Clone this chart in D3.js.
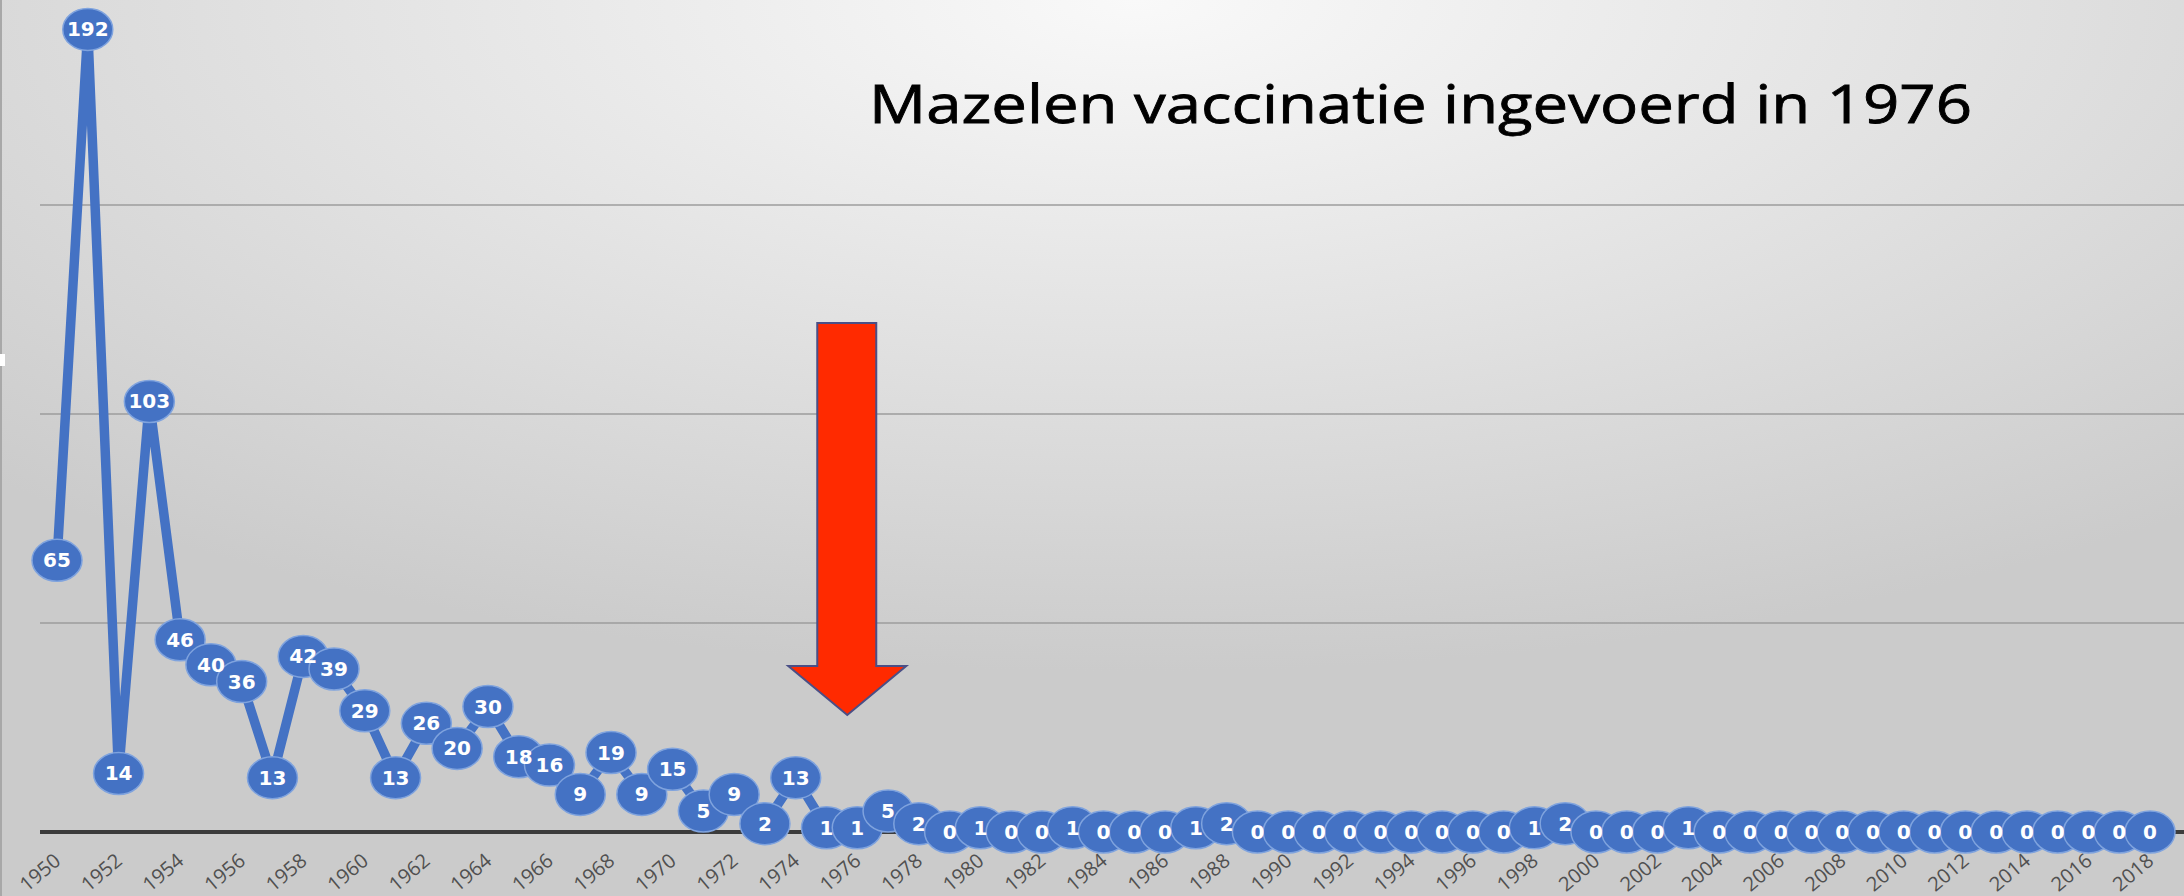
<!DOCTYPE html>
<html>
<head>
<meta charset="utf-8">
<script src="https://cdn.jsdelivr.net/npm/d3@7"></script>
<style>
  html, body { margin: 0; padding: 0; background: #e6e6e6; }
  #chart { width: 2184px; height: 896px; overflow: hidden; }
</style>
</head>
<body>
<div id="chart"></div>
<script>
// measles cases per year, NL
const years = [
  1950, 1951, 1952, 1953, 1954, 1955, 1956, 1957, 1958, 1959,
  1960, 1961, 1962, 1963, 1964, 1965, 1966, 1967, 1968, 1969,
  1970, 1971, 1972, 1973, 1974, 1975, 1976, 1977, 1978, 1979,
  1980, 1981, 1982, 1983, 1984, 1985, 1986, 1987, 1988, 1989,
  1990, 1991, 1992, 1993, 1994, 1995, 1996, 1997, 1998, 1999,
  2000, 2001, 2002, 2003, 2004, 2005, 2006, 2007, 2008, 2009,
  2010, 2011, 2012, 2013, 2014, 2015, 2016, 2017, 2018
];
const cases = [
  65, 192, 14, 103, 46, 40, 36, 13, 42, 39,
  29, 13, 26, 20, 30, 18, 16, 9, 19, 9,
  15, 5, 9, 2, 13, 1, 1, 5, 2, 0,
  1, 0, 0, 1, 0, 0, 0, 1, 2, 0,
  0, 0, 0, 0, 0, 0, 0, 0, 1, 2,
  0, 0, 0, 1, 0, 0, 0, 0, 0, 0,
  0, 0, 0, 0, 0, 0, 0, 0, 0
];
const tickYears = years.filter((y, i) => i % 2 === 0);
const gridValues = [50, 100, 150];
const title = "Mazelen vaccinatie ingevoerd in 1976";
const vaccineYear = 1976;

(function() {
  const width = 2184, height = 896;
  const root = d3.select("#chart");
  const svg = root.append("svg").attr("width", width).attr("height", height);
  const defs = svg.append("defs");

  // background: light centre top, greyer towards edges
  const bg = defs.append("radialGradient").attr("id", "bgGrad")
    .attr("cx", "52%").attr("cy", "0%").attr("r", "75%")
    .attr("gradientUnits", "objectBoundingBox");
  bg.append("stop").attr("offset", "0%").attr("stop-color", "#f9f9f9");
  bg.append("stop").attr("offset", "55%").attr("stop-color", "#e0e0e0");
  bg.append("stop").attr("offset", "100%").attr("stop-color", "#cbcbcb");
  svg.append("rect").attr("width", width).attr("height", height).attr("fill", "url(#bgGrad)");

  // left edge frame line
  svg.append("line").attr("x1", 1).attr("x2", 1).attr("y1", 0).attr("y2", height)
    .attr("stroke", "#a8a8a8").attr("stroke-width", 2);
  svg.append("rect").attr("x", 0).attr("y", 354).attr("width", 5).attr("height", 12).attr("fill", "#ffffff");

  const x = d3.scalePoint().domain(years).range([57, 2150]);
  const y = d3.scaleLinear().domain([0, 200]).range([832, -4]);
  const left = 40;

  // gridlines
  svg.append("g").selectAll("line").data(gridValues).join("line")
    .attr("x1", left).attr("x2", width)
    .attr("y1", d => y(d)).attr("y2", d => y(d))
    .attr("stroke", "#9c9c9c").attr("stroke-width", 1.6);

  // baseline
  svg.append("line").attr("x1", left).attr("x2", width).attr("y1", y(0)).attr("y2", y(0))
    .attr("stroke", "#3c3c3c").attr("stroke-width", 4);

  // x tick labels, rotated
  svg.append("g").selectAll("text").data(tickYears).join("text")
    .attr("transform", d => `translate(${x(d) + 5}, ${y(0) + 31}) rotate(-40)`)
    .attr("text-anchor", "end")
    .attr("font-family", "Open Sans, Lato, sans-serif")
    .attr("font-size", 20)
    .attr("fill", "#505050")
    .text(d => d);

  // arrow marking vaccination start
  const ax = x(vaccineYear) - 10;
  const arrow = d3.path();
  arrow.moveTo(ax - 30, 323);
  arrow.lineTo(ax + 29, 323);
  arrow.lineTo(ax + 29, 666);
  arrow.lineTo(ax + 59, 666);
  arrow.lineTo(ax, 715);
  arrow.lineTo(ax - 59, 666);
  arrow.lineTo(ax - 30, 666);
  arrow.closePath();
  svg.append("path").attr("d", arrow.toString())
    .attr("fill", "#ff2a00").attr("stroke", "#4a4f86").attr("stroke-width", 2);

  const pts = years.map((yr, i) => ({ yr, v: cases[i] }));

  // series line
  const line = d3.line().x(d => x(d.yr)).y(d => y(d.v));
  svg.append("path").datum(pts).attr("d", line)
    .attr("fill", "none").attr("stroke", "#4472c4").attr("stroke-width", 9.5)
    .attr("stroke-linejoin", "round");

  // markers
  svg.append("g").selectAll("ellipse").data(pts).join("ellipse")
    .attr("cx", d => x(d.yr)).attr("cy", d => y(d.v))
    .attr("rx", 25).attr("ry", 21)
    .attr("fill", "#4472c4").attr("stroke", "#7fa3de").attr("stroke-width", 1.5);

  // value labels
  svg.append("g").selectAll("text").data(pts).join("text")
    .attr("x", d => x(d.yr)).attr("y", d => y(d.v) + 7)
    .attr("text-anchor", "middle")
    .attr("font-family", "DejaVu Sans, Verdana, sans-serif")
    .attr("font-weight", 700).attr("font-size", 20)
    .attr("fill", "#ffffff")
    .text(d => d.v);

  // title
  svg.append("text").attr("x", 869).attr("y", 123)
    .attr("font-family", "Open Sans, Lato, sans-serif")
    .attr("font-size", 53).attr("fill", "#000000")
    .attr("stroke", "#000000").attr("stroke-width", 0.8)
    .attr("textLength", 1103).attr("lengthAdjust", "spacingAndGlyphs")
    .text(title);
})();
</script>
</body>
</html>
